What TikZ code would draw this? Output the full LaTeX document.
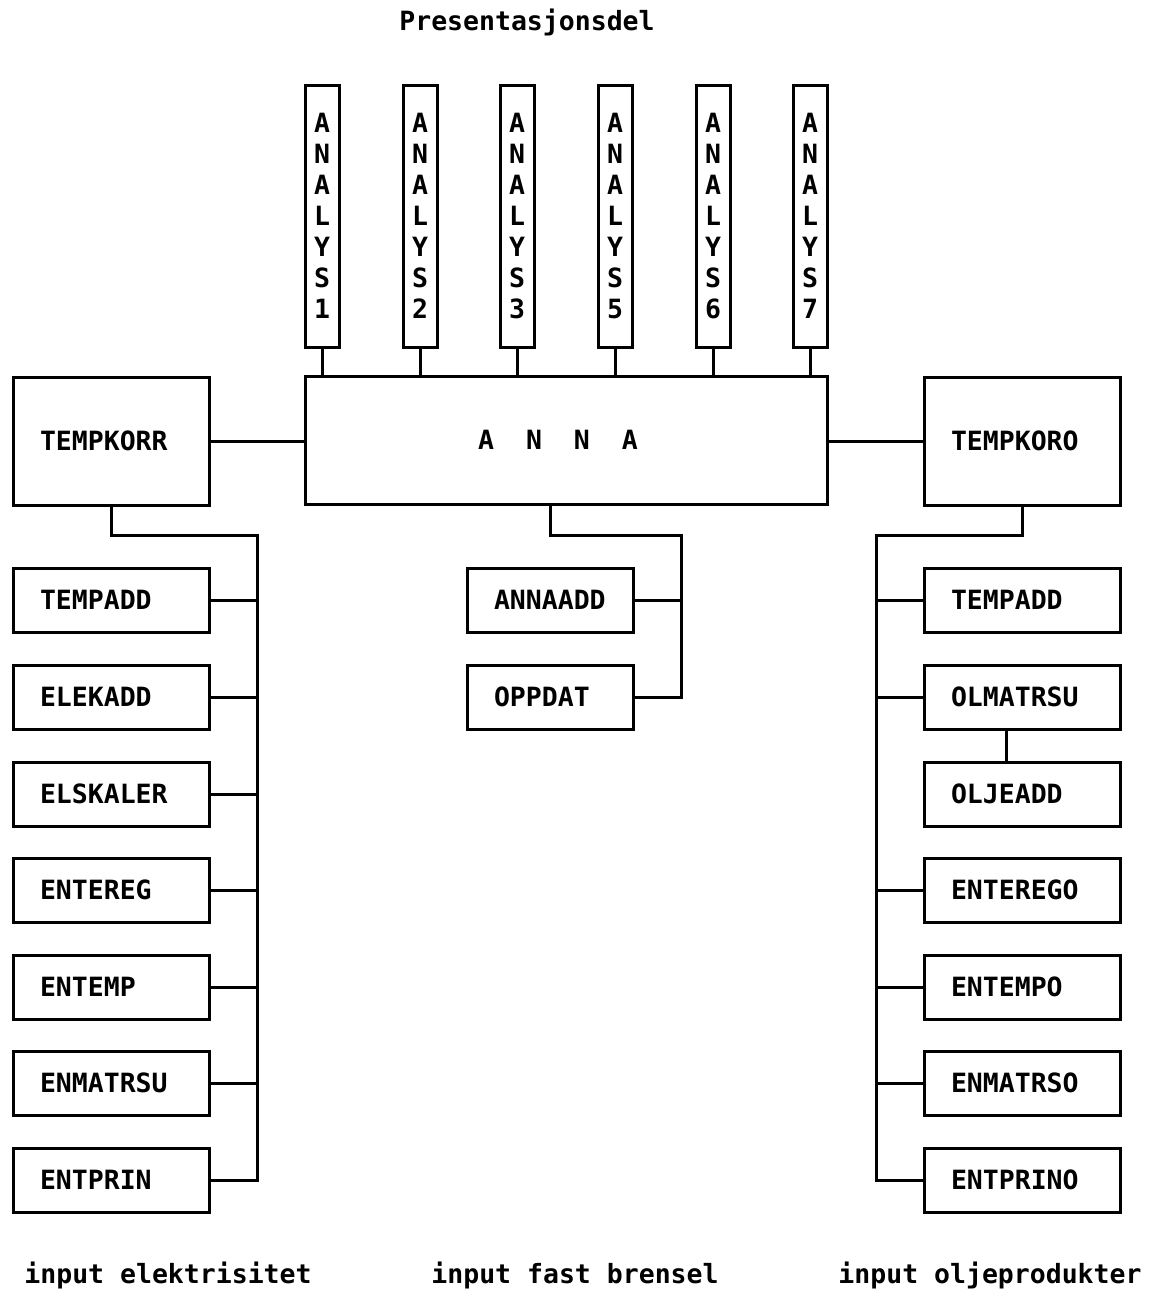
\documentclass[tikz,border=0pt]{standalone}
\usepackage{fontspec}
\setmainfont{DejaVu Sans Mono}
\begin{document}
\begin{tikzpicture}[x=1pt,y=-1pt,
  every node/.style={font=\fontsize{26.5}{31}\selectfont\bfseries},
  ln/.style={line width=3pt},
  bx/.style={draw,line width=3pt,rectangle,inner ysep=0pt,minimum height=#1},
  bx/.default=64pt,
  lbox/.style={bx,inner xsep=27pt,text width=142pt,align=left},
  rbox/.style={bx,inner xsep=27pt,text width=142pt,align=left},
  cbox/.style={bx,inner xsep=27pt,text width=112pt,align=left},
  vbox/.style={draw,line width=3pt,rectangle,inner sep=0pt,minimum width=34pt,minimum height=262pt,align=center},
  lab/.style={inner sep=0pt}
]
\useasboundingbox (0,0) rectangle (1153,1290);

\node[lab] (title) at (527,22) {Presentasjonsdel};

% ANALYS boxes
\node[vbox] (a1) at (322,216) {A\\N\\A\\L\\Y\\S\\1};
\node[vbox] (a2) at (420,216) {A\\N\\A\\L\\Y\\S\\2};
\node[vbox] (a3) at (517,216) {A\\N\\A\\L\\Y\\S\\3};
\node[vbox] (a5) at (615,216) {A\\N\\A\\L\\Y\\S\\5};
\node[vbox] (a6) at (713,216) {A\\N\\A\\L\\Y\\S\\6};
\node[vbox] (a7) at (810,216) {A\\N\\A\\L\\Y\\S\\7};

% main row
\node[bx=128pt,minimum width=522pt,inner xsep=0pt] (anna) at (566,440) {A~~N~~N~~A\kern16pt};
\node[lbox,minimum height=128pt] (tkorr) at (111,441) {TEMPKORR};
\node[rbox,minimum height=128pt] (tkoro) at (1022,441) {TEMPKORO};

% left column
\node[lbox] (l1) at (111,600) {TEMPADD};
\node[lbox] (l2) at (111,697) {ELEKADD};
\node[lbox] (l3) at (111,794) {ELSKALER};
\node[lbox] (l4) at (111,890) {ENTEREG};
\node[lbox] (l5) at (111,987) {ENTEMP};
\node[lbox] (l6) at (111,1083) {ENMATRSU};
\node[lbox] (l7) at (111,1180) {ENTPRIN};

% centre column
\node[cbox] (c1) at (550,600) {ANNAADD};
\node[cbox] (c2) at (550,697) {OPPDAT};

% right column
\node[rbox] (r1) at (1022,600) {TEMPADD};
\node[rbox] (r2) at (1022,697) {OLMATRSU};
\node[rbox] (r3) at (1022,794) {OLJEADD};
\node[rbox] (r4) at (1022,890) {ENTEREGO};
\node[rbox] (r5) at (1022,987) {ENTEMPO};
\node[rbox] (r6) at (1022,1083) {ENMATRSO};
\node[rbox] (r7) at (1022,1180) {ENTPRINO};

% bottom labels
\node[lab] (in1) at (168,1275) {input elektrisitet};
\node[lab] (in2) at (575,1275) {input fast brensel};
\node[lab] (in3) at (990,1275) {input oljeprodukter};

% bus coordinates
\coordinate (lbus) at (257,535);
\coordinate (cbus) at (681,535);
\coordinate (rbus) at (876,535);

% connectors
\draw[ln] (tkorr.east) -- (tkorr.east -| anna.west);
\draw[ln] (tkoro.west) -- (tkoro.west -| anna.east);
\foreach \a in {a1,a2,a3,a5,a6,a7}
  \draw[ln] (\a.south) -- (\a.south |- anna.north);

\draw[ln] (tkorr.south) |- (lbus) -- (lbus |- l7.east) -- (l7.east);
\foreach \b in {l1,l2,l3,l4,l5,l6}
  \draw[ln] (\b.east) -- (\b.east -| lbus);

\draw[ln] (c1.north |- anna.south) |- (cbus) -- (cbus |- c2.east) -- (c2.east);
\draw[ln] (c1.east) -- (c1.east -| cbus);

\draw[ln] (tkoro.south) |- (rbus) -- (rbus |- r7.west) -- (r7.west);
\foreach \b in {r1,r2,r4,r5,r6}
  \draw[ln] (\b.west) -- (\b.west -| rbus);
\draw[ln] ([xshift=-16pt]r2.south) -- ([xshift=-16pt]r3.north);
\end{tikzpicture}
\end{document}
